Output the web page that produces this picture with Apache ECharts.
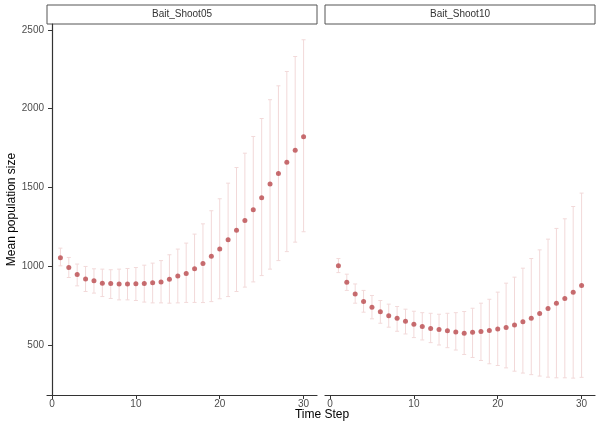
<!DOCTYPE html>
<html>
<head>
<meta charset="utf-8">
<script src="https://cdn.jsdelivr.net/npm/echarts@6/dist/echarts.min.js"></script>
<style>html,body{margin:0;padding:0;background:#fff;}#c{width:601px;height:431px;}</style>
</head>
<body>
<div id="c"></div>
<script>
var timeSteps = [1,2,3,4,5,6,7,8,9,10,11,12,13,14,15,16,17,18,19,20,21,22,23,24,25,26,27,28,29,30];
var panelNames = ['Bait_Shoot05', 'Bait_Shoot10'];
var yTicks = [500, 1000, 1500, 2000, 2500];
var xTicks = [0, 10, 20, 30];

var shoot05Mean = [1055,993,949,921,909,894,892,888,888,890,892,896,902,919,940,955,985,1018,1065,1110,1170,1230,1291,1359,1435,1522,1589,1661,1737,1822];
var shoot05Upper = [1116,1057,1015,1000,985,983,979,983,987,993,1008,1021,1037,1074,1110,1148,1205,1270,1353,1429,1528,1627,1718,1824,1938,2057,2145,2236,2331,2437];
var shoot05Lower = [1004,930,877,841,831,809,797,788,788,784,774,769,769,767,769,772,772,771,777,795,809,841,869,902,942,983,1037,1094,1154,1220];

var shoot10Mean = [1004,900,826,777,741,712,687,672,653,634,619,606,600,592,585,577,583,587,594,604,613,628,649,672,701,733,767,796,837,879];
var shoot10Upper = [1050,951,889,848,816,784,761,746,729,716,707,703,697,703,707,714,735,767,792,837,894,932,989,1050,1105,1173,1241,1302,1380,1465];
var shoot10Lower = [961,848,767,710,668,640,615,589,572,549,534,517,502,485,470,442,423,404,383,372,357,336,324,314,305,298,294,294,292,297];

var FONT = 'Liberation Sans, Arial, Helvetica, sans-serif';
var chart = echarts.init(document.getElementById('c'), null, {renderer: 'canvas'});

function pts(mean) { return timeSteps.map(function (t, i) { return [t, mean[i]]; }); }
function bars(lo, hi) { return timeSteps.map(function (t, i) { return [t, lo[i], hi[i]]; }); }

function errRender(params, api) {
  var x = api.value(0);
  var lo = api.coord([x, api.value(1)]);
  var hi = api.coord([x, api.value(2)]);
  var hw = 2;
  var st = {stroke: '#f2d9d9', lineWidth: 1};
  return {
    type: 'group',
    children: [
      {type: 'line', shape: {x1: lo[0], y1: lo[1], x2: hi[0], y2: hi[1]}, style: st},
      {type: 'line', shape: {x1: lo[0] - hw, y1: lo[1], x2: lo[0] + hw, y2: lo[1]}, style: st},
      {type: 'line', shape: {x1: hi[0] - hw, y1: hi[1], x2: hi[0] + hw, y2: hi[1]}, style: st}
    ]
  };
}

var grids = [
  {left: 47, width: 270, top: 24, bottom: 36},
  {left: 325, width: 270, top: 24, bottom: 36}
];

function plain(v) { return String(v); }

function xAxisOf(i) {
  return {
    type: 'value', gridIndex: i, min: -0.6, max: 31.6,
    axisLine: {show: true, lineStyle: {color: '#333', width: 1.2}},
    axisTick: {show: true, length: 4, lineStyle: {color: '#333'}, customValues: xTicks},
    axisLabel: {show: true, color: '#4d4d4d', fontSize: 10, fontFamily: FONT, margin: 4, customValues: xTicks, formatter: plain},
    splitLine: {show: false}
  };
}
function yAxisOf(i) {
  var ax = {
    type: 'value', gridIndex: i, min: 185, max: 2537,
    axisLine: {show: i === 0, lineStyle: {color: '#333', width: 1.2}},
    axisTick: {show: i === 0, length: 4, lineStyle: {color: '#333'}, customValues: yTicks},
    axisLabel: {show: i === 0, color: '#4d4d4d', fontSize: 10, fontFamily: FONT, margin: 3, customValues: yTicks, formatter: plain},
    splitLine: {show: false}
  };
  if (i === 0) {
    ax.name = 'Mean population size';
    ax.nameLocation = 'middle';
    ax.nameGap = 27;
    ax.nameTextStyle = {color: '#000', fontSize: 12, fontFamily: FONT};
  }
  return ax;
}

var graphics = [];
[0, 1].forEach(function (i) {
  var g = grids[i];
  graphics.push({
    type: 'rect', shape: {x: g.left, y: 5, width: g.width, height: 19},
    style: {fill: '#fff', stroke: '#555', lineWidth: 1}
  });
  graphics.push({
    type: 'text', x: g.left + g.width / 2, y: 14.5,
    style: {text: panelNames[i], fill: '#333', fontSize: 10, fontFamily: FONT, align: 'center', verticalAlign: 'middle'}
  });
});
graphics.push({
  type: 'text', x: 322, y: 415,
  style: {text: 'Time Step', fill: '#000', fontSize: 12, fontFamily: FONT, align: 'center', verticalAlign: 'middle'}
});

chart.setOption({
  animation: false,
  backgroundColor: '#fff',
  grid: grids,
  xAxis: [xAxisOf(0), xAxisOf(1)],
  yAxis: [yAxisOf(0), yAxisOf(1)],
  graphic: graphics,
  series: [
    {type: 'custom', xAxisIndex: 0, yAxisIndex: 0, renderItem: errRender, data: bars(shoot05Lower, shoot05Upper), z: 1},
    {type: 'custom', xAxisIndex: 1, yAxisIndex: 1, renderItem: errRender, data: bars(shoot10Lower, shoot10Upper), z: 1},
    {type: 'scatter', xAxisIndex: 0, yAxisIndex: 0, data: pts(shoot05Mean), symbolSize: 5, itemStyle: {color: '#b9484c'}, z: 3},
    {type: 'scatter', xAxisIndex: 1, yAxisIndex: 1, data: pts(shoot10Mean), symbolSize: 5, itemStyle: {color: '#b9484c'}, z: 3}
  ]
});
</script>
</body>
</html>
